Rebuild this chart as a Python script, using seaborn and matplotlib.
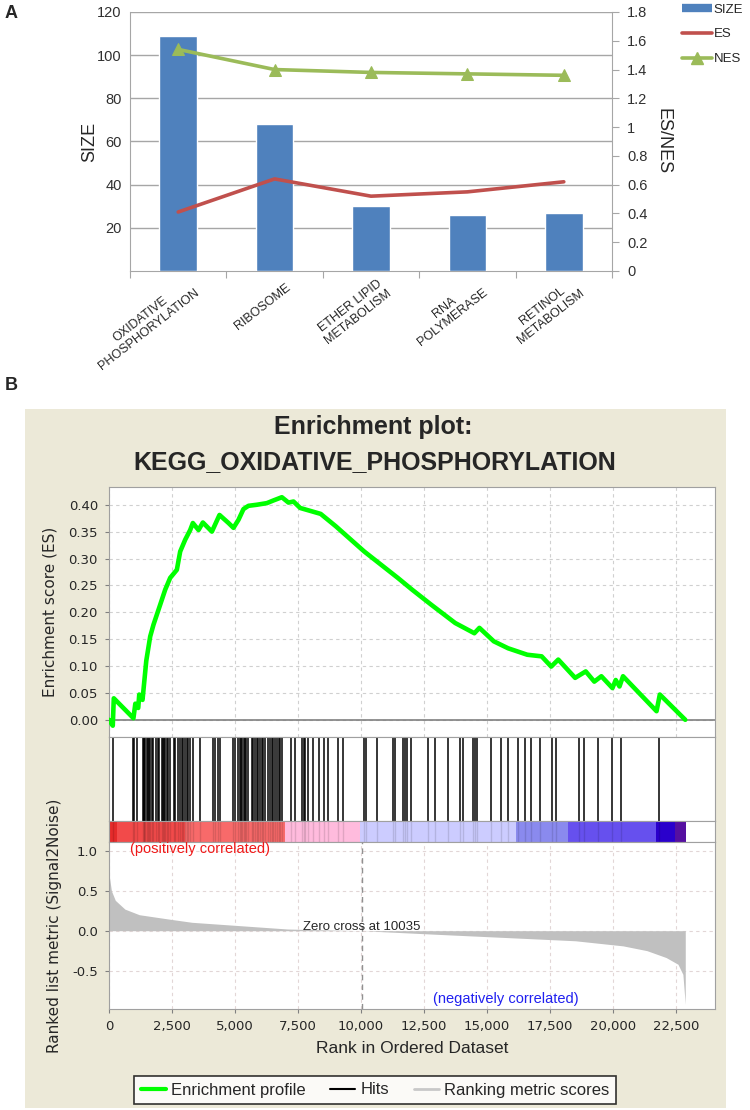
import numpy as np
import matplotlib
matplotlib.use('Agg')
import matplotlib.pyplot as plt
import matplotlib.transforms as mtransforms
from matplotlib.lines import Line2D
from matplotlib.patches import Rectangle
from matplotlib import font_manager
import seaborn as sns

# ---- panel A data ----
pathways = ['OXIDATIVE\nPHOSPHORYLATION', 'RIBOSOME', 'ETHER LIPID\nMETABOLISM',
            'RNA\nPOLYMERASE', 'RETINOL\nMETABOLISM']
size = [109, 68, 30, 26, 27]
es = [0.41, 0.64, 0.52, 0.55, 0.62]
nes = [1.54, 1.40, 1.38, 1.37, 1.36]

# ---- panel B data ----
es_rank = [0, 150, 190, 970, 1045, 1160, 1200, 1330, 1480, 1635, 1766, 2031, 2230, 2428,
           2693, 2825, 3024, 3222, 3328, 3553, 3725, 4083, 4385, 4743, 4940, 5139, 5337,
           5535, 5869, 6265, 6527, 6860, 7123, 7322, 7587, 8400, 9000, 10130, 11460, 12030,
           12790, 13740, 14500, 14700, 15270, 15840, 16600, 17170, 17550, 17830, 18500,
           18920, 19260, 19540, 19980, 20110, 20260, 20400, 21730, 21860, 22870]
es_score = [0.0, -0.011, 0.040, 0.003, 0.030, 0.022, 0.047, 0.037, 0.110, 0.155, 0.177,
            0.214, 0.242, 0.264, 0.279, 0.313, 0.335, 0.353, 0.366, 0.353, 0.367, 0.350,
            0.381, 0.366, 0.357, 0.372, 0.392, 0.398, 0.400, 0.403, 0.408, 0.414, 0.404,
            0.406, 0.394, 0.383, 0.360, 0.313, 0.264, 0.242, 0.214, 0.180, 0.161, 0.171,
            0.146, 0.133, 0.121, 0.118, 0.099, 0.112, 0.078, 0.090, 0.071, 0.081, 0.059,
            0.074, 0.062, 0.081, 0.016, 0.047, 0.0]
hit_ranks = [170, 933, 973, 1106, 1345, 1375, 1405, 1436, 1504, 1545, 1590, 1635, 1702,
             1766, 1873, 1926, 2004, 2098, 2150, 2200, 2230, 2297, 2360, 2428, 2560, 2627,
             2758, 2820, 2893, 2956, 3024, 3091, 3155, 3222, 3353, 3619, 4147, 4214, 4345,
             4412, 4940, 5008, 5139, 5190, 5240, 5290, 5340, 5390, 5440, 5535, 5670, 5734,
             5801, 5869, 5932, 6000, 6060, 6131, 6198, 6329, 6390, 6460, 6527, 6595, 6662,
             6730, 6790, 6860, 7217, 7388, 7660, 7720, 7785, 7917, 8115, 8353, 8539, 8711,
             9108, 9281, 10126, 10205, 10654, 11265, 11357, 11662, 11740, 11821, 11980,
             12678, 12944, 13471, 13935, 14043, 14440, 14520, 14598, 15158, 15539, 15840,
             16221, 16495, 16753, 17090, 17590, 17741, 18654, 18836, 19415, 19979, 20328,
             21816]
metric_rank = [0, 95, 250, 630, 1200, 2340, 3290, 5190, 7090, 10035, 12790, 15650, 18500,
               20400, 21350, 22110, 22580, 22775, 22870]
metric_value = [0.71, 0.50, 0.38, 0.27, 0.20, 0.147, 0.105, 0.063, 0.021, 0.0, -0.042,
                -0.084, -0.126, -0.19, -0.25, -0.336, -0.42, -0.546, -0.92]
band_edges = [0, 300, 3000, 7000, 9970, 16170, 18200, 21700, 22470, 22880]
band_colors = ['#E52A2A', '#F24A4A', '#F86A6A', '#FFBBDD', '#CCCCFF', '#8A8AEE',
               '#6650EE', '#2A00CC', '#550FA0']
zero_cross = 10035
rank_ticks = [0, 2500, 5000, 7500, 10000, 12500, 15000, 17500, 20000, 22500]

sns.set_style('white')
names = {f.name for f in font_manager.fontManager.ttflist}
narrow = 'Liberation Sans Narrow' if 'Liberation Sans Narrow' in names else 'Liberation Sans'
plt.rcParams['font.family'] = ['Liberation Sans', 'DejaVu Sans']

W, H = 750, 1110
fig = plt.figure(figsize=(7.5, 11.1), dpi=100)


def box(l, t, r, b):
    return [l / W, 1 - b / H, (r - l) / W, (b - t) / H]


# ================= panel A =================
grid_c = '#A6A6A6'
axA = fig.add_axes(box(130, 12, 612, 271))
pos = np.arange(len(pathways))
sns.barplot(x=pos, y=size, ax=axA, color='#4F81BD', width=0.39, saturation=1, zorder=3)
axA.set_xlim(-0.5, 4.5)
axA.set_ylim(0, 120)
axA.set_yticks([20, 40, 60, 80, 100, 120])
axA.set_yticklabels(['20', '40', '60', '80', '100', '120'], fontsize=10.5, color='#303030')
axA.yaxis.grid(True, color=grid_c, lw=1)
axA.set_axisbelow(True)
axA.set_xticks(np.arange(-0.5, 5, 1))
axA.set_xticklabels([])
axA.set_xticks(pos, minor=True)
axA.set_xticklabels(pathways, minor=True, rotation=38, ha='right', va='center',
                    rotation_mode='anchor', fontsize=9, multialignment='center')
axA.tick_params(axis='x', which='major', length=5, color=grid_c, direction='out', bottom=True)
axA.tick_params(axis='x', which='minor', length=0, pad=11)
axA.tick_params(axis='y', length=0, pad=6)
shift = mtransforms.ScaledTranslation(15 / 100, 0, fig.dpi_scale_trans)
for lab in axA.get_xticklabels(minor=True):
    lab.set_transform(lab.get_transform() + shift)
axA.set_xlabel('')
axA.set_ylabel('SIZE', fontsize=13, labelpad=-1)
for s in ['top', 'right']:
    axA.spines[s].set_visible(False)
for s in ['left', 'bottom']:
    axA.spines[s].set_color(grid_c)

axA2 = axA.twinx()
sns.lineplot(x=pos, y=es, ax=axA2, color='#C0504D', lw=2.6)
sns.lineplot(x=pos, y=nes, ax=axA2, color='#9BBB59', lw=2.6, marker='^', markersize=9,
             markeredgecolor='#9BBB59')
axA2.set_xlim(-0.5, 4.5)
axA2.set_ylim(0, 1.8)
rt = np.round(np.arange(0, 1.81, 0.2), 1)
axA2.set_yticks(rt)
axA2.set_yticklabels([f'{v:g}' for v in rt], fontsize=10.5, color='#303030')
axA2.tick_params(axis='y', length=5, color=grid_c, direction='out', right=True, pad=6)
axA2.set_ylabel('ES/NES', fontsize=13, rotation=-90, labelpad=17)
axA2.spines['top'].set_visible(False)
axA2.spines['left'].set_visible(False)
axA2.spines['bottom'].set_visible(False)
axA2.spines['right'].set_color(grid_c)

legA = [Line2D([], [], color='#4F81BD', lw=6, solid_capstyle='butt'),
        Line2D([], [], color='#C0504D', lw=2.6),
        Line2D([], [], color='#9BBB59', lw=2.6, marker='^', markersize=8)]
fig.legend(legA, ['SIZE', 'ES', 'NES'], loc='upper left', bbox_to_anchor=(670 / W, 1.0076),
           frameon=False, fontsize=9.5, handlelength=2.3, handletextpad=0.1, labelspacing=0.95)

fig.text(5 / W, 1 - 14 / H, 'A', fontsize=13, fontweight='bold', va='center')
fig.text(5 / W, 1 - 386 / H, 'B', fontsize=13, fontweight='bold', va='center')

# ================= panel B =================
fig.patches.append(Rectangle((25 / W, 2 / H), 701 / W, 699 / H, transform=fig.transFigure,
                             facecolor='#ECE9D8', edgecolor='none', zorder=-5))
fig.text(0.497, 1 - 427 / H, 'Enrichment plot:', ha='center', va='center', fontsize=18,
         fontweight='bold', family=[narrow, 'DejaVu Sans'])
fig.text(0.5, 1 - 462 / H, 'KEGG_OXIDATIVE_PHOSPHORYLATION', ha='center', va='center',
         fontsize=18, fontweight='bold', family=[narrow, 'DejaVu Sans'])

spine_c = '#A0A0A0'
dash = (0, (3, 3))
xmax = 24050
tick_font = {'fontsize': 9.5, 'family': 'DejaVu Sans'}

axE = fig.add_axes(box(109, 487, 715, 737))
sns.lineplot(x=es_rank, y=es_score, ax=axE, color='#00FF00', lw=3.3, zorder=3)
axE.set_xlim(0, xmax)
axE.set_ylim(-0.032, 0.433)
et = np.round(np.arange(0, 0.41, 0.05), 2)
axE.set_yticks(et)
axE.set_yticklabels([f'{v:.2f}' for v in et], **tick_font)
axE.set_xticks(rank_ticks)
axE.set_xticklabels([])
axE.tick_params(axis='x', length=0)
axE.tick_params(axis='y', length=3, direction='out', left=True, color='#808080', pad=5)
axE.grid(True, ls=dash, color='#D0D0D0', lw=0.8)
axE.axhline(0, color='#808080', lw=1.2, zorder=2)
axE.set_ylabel('Enrichment score (ES)', fontsize=11, family='DejaVu Sans')
axE.yaxis.set_label_coords((58 - 109) / 606, 0.5)
for s in axE.spines.values():
    s.set_color(spine_c)

axH = fig.add_axes(box(109, 737, 715, 821))
axH.vlines(hit_ranks, 0, 1, color='black', lw=1.1)
axH.set_xlim(0, xmax)
axH.set_ylim(0, 1)
axH.set_xticks([])
axH.set_yticks([])
for s in axH.spines.values():
    s.set_color(spine_c)

axC = fig.add_axes(box(109, 821, 715, 842))
for i, c in enumerate(band_colors):
    axC.axvspan(band_edges[i], band_edges[i + 1], color=c, lw=0)
axC.vlines(hit_ranks, 0, 1, color='black', lw=1, alpha=0.12)
axC.set_xlim(0, xmax)
axC.set_ylim(0, 1)
axC.set_xticks([])
axC.set_yticks([])
for s in axC.spines.values():
    s.set_color(spine_c)

axM = fig.add_axes(box(109, 842, 715, 1009))
axM.fill_between(metric_rank, metric_value, 0, color='#C0C0C0', lw=0, zorder=2)
axM.set_xlim(0, xmax)
axM.set_ylim(-0.98, 1.11)
axM.set_yticks([-0.5, 0.0, 0.5, 1.0])
axM.set_yticklabels(['-0.5', '0.0', '0.5', '1.0'], **tick_font)
axM.set_xticks(rank_ticks)
axM.set_xticklabels([f'{v:,}' for v in rank_ticks], **tick_font)
axM.tick_params(axis='both', length=3, direction='out', left=True, bottom=True,
                color='#808080', pad=5)
axM.grid(True, ls=dash, color='#E2D6D6', lw=0.8)
axM.axvline(zero_cross, color='#909090', ls=(0, (4, 3)), lw=1, zorder=3)
axM.text(zero_cross, 0.04, f'Zero cross at {zero_cross}', ha='center', va='center',
         fontsize=9.5, family=[narrow, 'DejaVu Sans'], zorder=4)
axM.text(840, 1.02, '(positively correlated)', color='#F01818', ha='left', va='center',
         fontsize=10.5, family=[narrow, 'DejaVu Sans'])
axM.text(15740, -0.85, '(negatively correlated)', color='#2020F0', ha='center', va='center',
         fontsize=10.5, family=[narrow, 'DejaVu Sans'])
axM.set_xlabel('Rank in Ordered Dataset', fontsize=12.5, family=[narrow, 'DejaVu Sans'],
               labelpad=6)
axM.set_ylabel('Ranked list metric (Signal2Noise)', fontsize=11, family='DejaVu Sans')
axM.yaxis.set_label_coords((62 - 109) / 606, 0.5)
for s in axM.spines.values():
    s.set_color(spine_c)

legB = [Line2D([], [], color='#00FF00', lw=3),
        Line2D([], [], color='black', lw=1.5),
        Line2D([], [], color='#C8C8C8', lw=2)]
lg = fig.legend(legB, ['Enrichment profile', 'Hits', 'Ranking metric scores'], loc='center',
                bbox_to_anchor=(375 / W, 1 - 1090 / H), ncol=3, frameon=True,
                fancybox=False, edgecolor='black',
                prop={'family': [narrow, 'DejaVu Sans'], 'size': 12},
                handlelength=1.5, handletextpad=0.3, columnspacing=1.5, borderpad=0.4)
lg.get_frame().set_linewidth(1.2)

fig.savefig('out.png', dpi=100)
